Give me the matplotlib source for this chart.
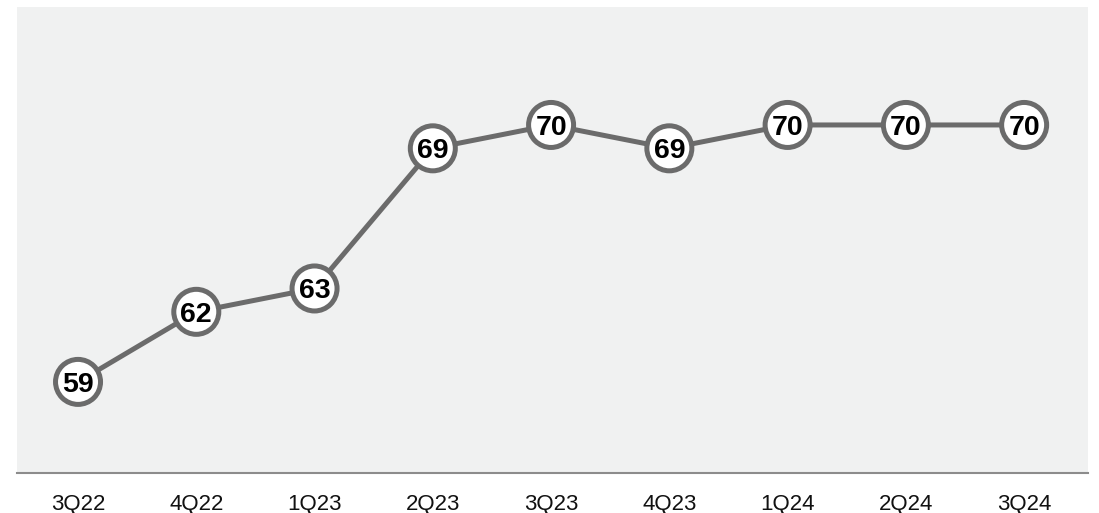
import matplotlib
matplotlib.use("Agg")
import matplotlib.pyplot as plt
import matplotlib.patheffects as pe

quarters = ["3Q22", "4Q22", "1Q23", "2Q23", "3Q23", "4Q23", "1Q24", "2Q24", "3Q24"]
values = [59, 62, 63, 69, 70, 69, 70, 70, 70]

plt.rcParams['font.family'] = ['Liberation Sans', 'DejaVu Sans']

fig = plt.figure(figsize=(10.99, 5.13), dpi=100)
ax = fig.add_axes([17/1099, 40/513, 1071/1099, 466/513])
ax.set_facecolor("#f0f1f1")

x = list(range(len(quarters)))
ax.plot(x, values, color="#6b6b6b", lw=3.6, zorder=2, solid_capstyle="butt")
ax.plot(x, values, linestyle="none", marker="o", markersize=32.4,
        markerfacecolor="white", markeredgecolor="#6b6b6b", markeredgewidth=3.6,
        zorder=3,
        path_effects=[pe.SimplePatchShadow(offset=(1, -1), shadow_rgbFace="#000000", alpha=0.18), pe.Normal()])
for xi, v in zip(x, values):
    ax.text(xi, v, str(v), ha="center", va="center_baseline", fontsize=20.5,
            fontweight="bold", color="black", zorder=4)

ax.set_xlim(-0.516, 8.54)
ax.set_ylim(55.1, 75.05)
ax.set_xticks(x)
ax.set_xticklabels(quarters, fontsize=16, color="#111111")
ax.tick_params(axis="x", length=0, pad=15)
ax.set_yticks([])
for s in ["top", "left", "right"]:
    ax.spines[s].set_visible(False)
ax.spines["bottom"].set_color("#8c8c8c")
ax.spines["bottom"].set_linewidth(1.5)

fig.savefig("out.png", dpi=100, facecolor="white")
